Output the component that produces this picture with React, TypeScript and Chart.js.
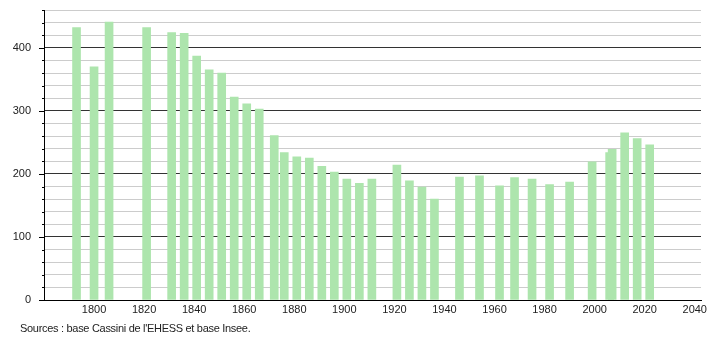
import React, { useEffect, useRef } from "react";
import { Chart, registerables } from "chart.js";

Chart.register(...registerables);

const years = [1793, 1800, 1806, 1821, 1831, 1836, 1841, 1846, 1851, 1856, 1861, 1866, 1872, 1876, 1881, 1886, 1891, 1896, 1901, 1906, 1911, 1921, 1926, 1931, 1936, 1946, 1954, 1962, 1968, 1975, 1982, 1990, 1999, 2006, 2007, 2012, 2017, 2022];
const population = [432, 370, 441, 432, 424, 423, 387, 365, 360, 322, 311, 303, 261, 234, 227, 225, 212, 203, 192, 185, 192, 214, 189, 179, 160, 195, 197, 181, 194, 192, 183, 187, 219, 234, 239, 265, 256, 246];
const xTickYears = [1800, 1820, 1840, 1860, 1880, 1900, 1920, 1940, 1960, 1980, 2000, 2020, 2040];
const yTickLabels = [0, 100, 200, 300, 400];
const sourceText = "Sources : base Cassini de l'EHESS et base Insee.";

const FONT = "'Liberation Sans', Arial, Helvetica, sans-serif";

const tickMarks = {
  id: "tickMarks",
  afterDraw(chart: any) {
    const y = chart.scales.y;
    const ctx = chart.ctx;
    const left = chart.chartArea.left;
    ctx.save();
    ctx.strokeStyle = "#000";
    ctx.lineWidth = 1;
    y.ticks.forEach((t: any) => {
      const py = Math.round(y.getPixelForValue(t.value)) + 0.5;
      const len = t.value % 100 === 0 ? 5 : 2;
      ctx.beginPath();
      ctx.moveTo(left - len, py);
      ctx.lineTo(left, py);
      ctx.stroke();
    });
    ctx.restore();
  },
};

export default function App() {
  const ref = useRef<HTMLCanvasElement | null>(null);

  useEffect(() => {
    document.body.style.margin = "0";
    if (!ref.current) return;
    const chart = new Chart(ref.current, {
      type: "bar",
      data: {
        datasets: [
          {
            data: years.map((yr, i) => ({ x: yr, y: population[i] })),
            backgroundColor: "#ade5ad",
            borderWidth: 0,
            barThickness: 8,
          },
        ],
      },
      options: {
        animation: false,
        responsive: false,
        maintainAspectRatio: false,
        layout: { padding: { left: 0, right: 9, top: 10, bottom: 0 } },
        plugins: {
          legend: { display: false },
          tooltip: { enabled: false },
          title: { display: false },
        },
        scales: {
          x: {
            type: "linear",
            min: 1780,
            max: 2042.5,
            offset: false,
            grid: { display: false, drawTicks: false },
            border: { display: true, color: "#000", width: 1 },
            ticks: {
              stepSize: 20,
              includeBounds: false,
              autoSkip: false,
              maxRotation: 0,
              padding: 3,
              color: "#222",
              font: { family: FONT, size: 11 },
              callback: (v: any) => (xTickYears.includes(Number(v)) ? String(v) : ""),
            },
            afterFit: (s: any) => {
              s.height = 40;
              s.paddingLeft = 0;
              s.paddingRight = 0;
            },
          },
          y: {
            min: 0,
            max: 460,
            grid: {
              drawTicks: false,
              color: (c: any) => (c.tick && c.tick.value % 100 === 0 ? "#333" : "#cccccc"),
              lineWidth: 1,
            },
            border: { display: true, color: "#000", width: 1 },
            ticks: {
              stepSize: 20,
              autoSkip: false,
              padding: 13,
              color: "#222",
              font: { family: FONT, size: 11 },
              callback: (v: any) => (yTickLabels.includes(Number(v)) ? String(v) : ""),
            },
            afterFit: (s: any) => {
              s.width = 44;
              s.paddingTop = 0;
              s.paddingBottom = 0;
            },
          },
        },
      },
      plugins: [tickMarks],
    });
    return () => chart.destroy();
  }, []);

  return (
    <div style={{ position: "relative", width: 710, height: 340 }}>
      <canvas ref={ref} width={710} height={340} style={{ display: "block" }} />
      <div
        style={{
          position: "absolute",
          left: 20,
          top: 322,
          font: `11px ${FONT}`,
          letterSpacing: "-0.3px",
          color: "#222",
          whiteSpace: "nowrap",
        }}
      >
        {sourceText}
      </div>
    </div>
  );
}
